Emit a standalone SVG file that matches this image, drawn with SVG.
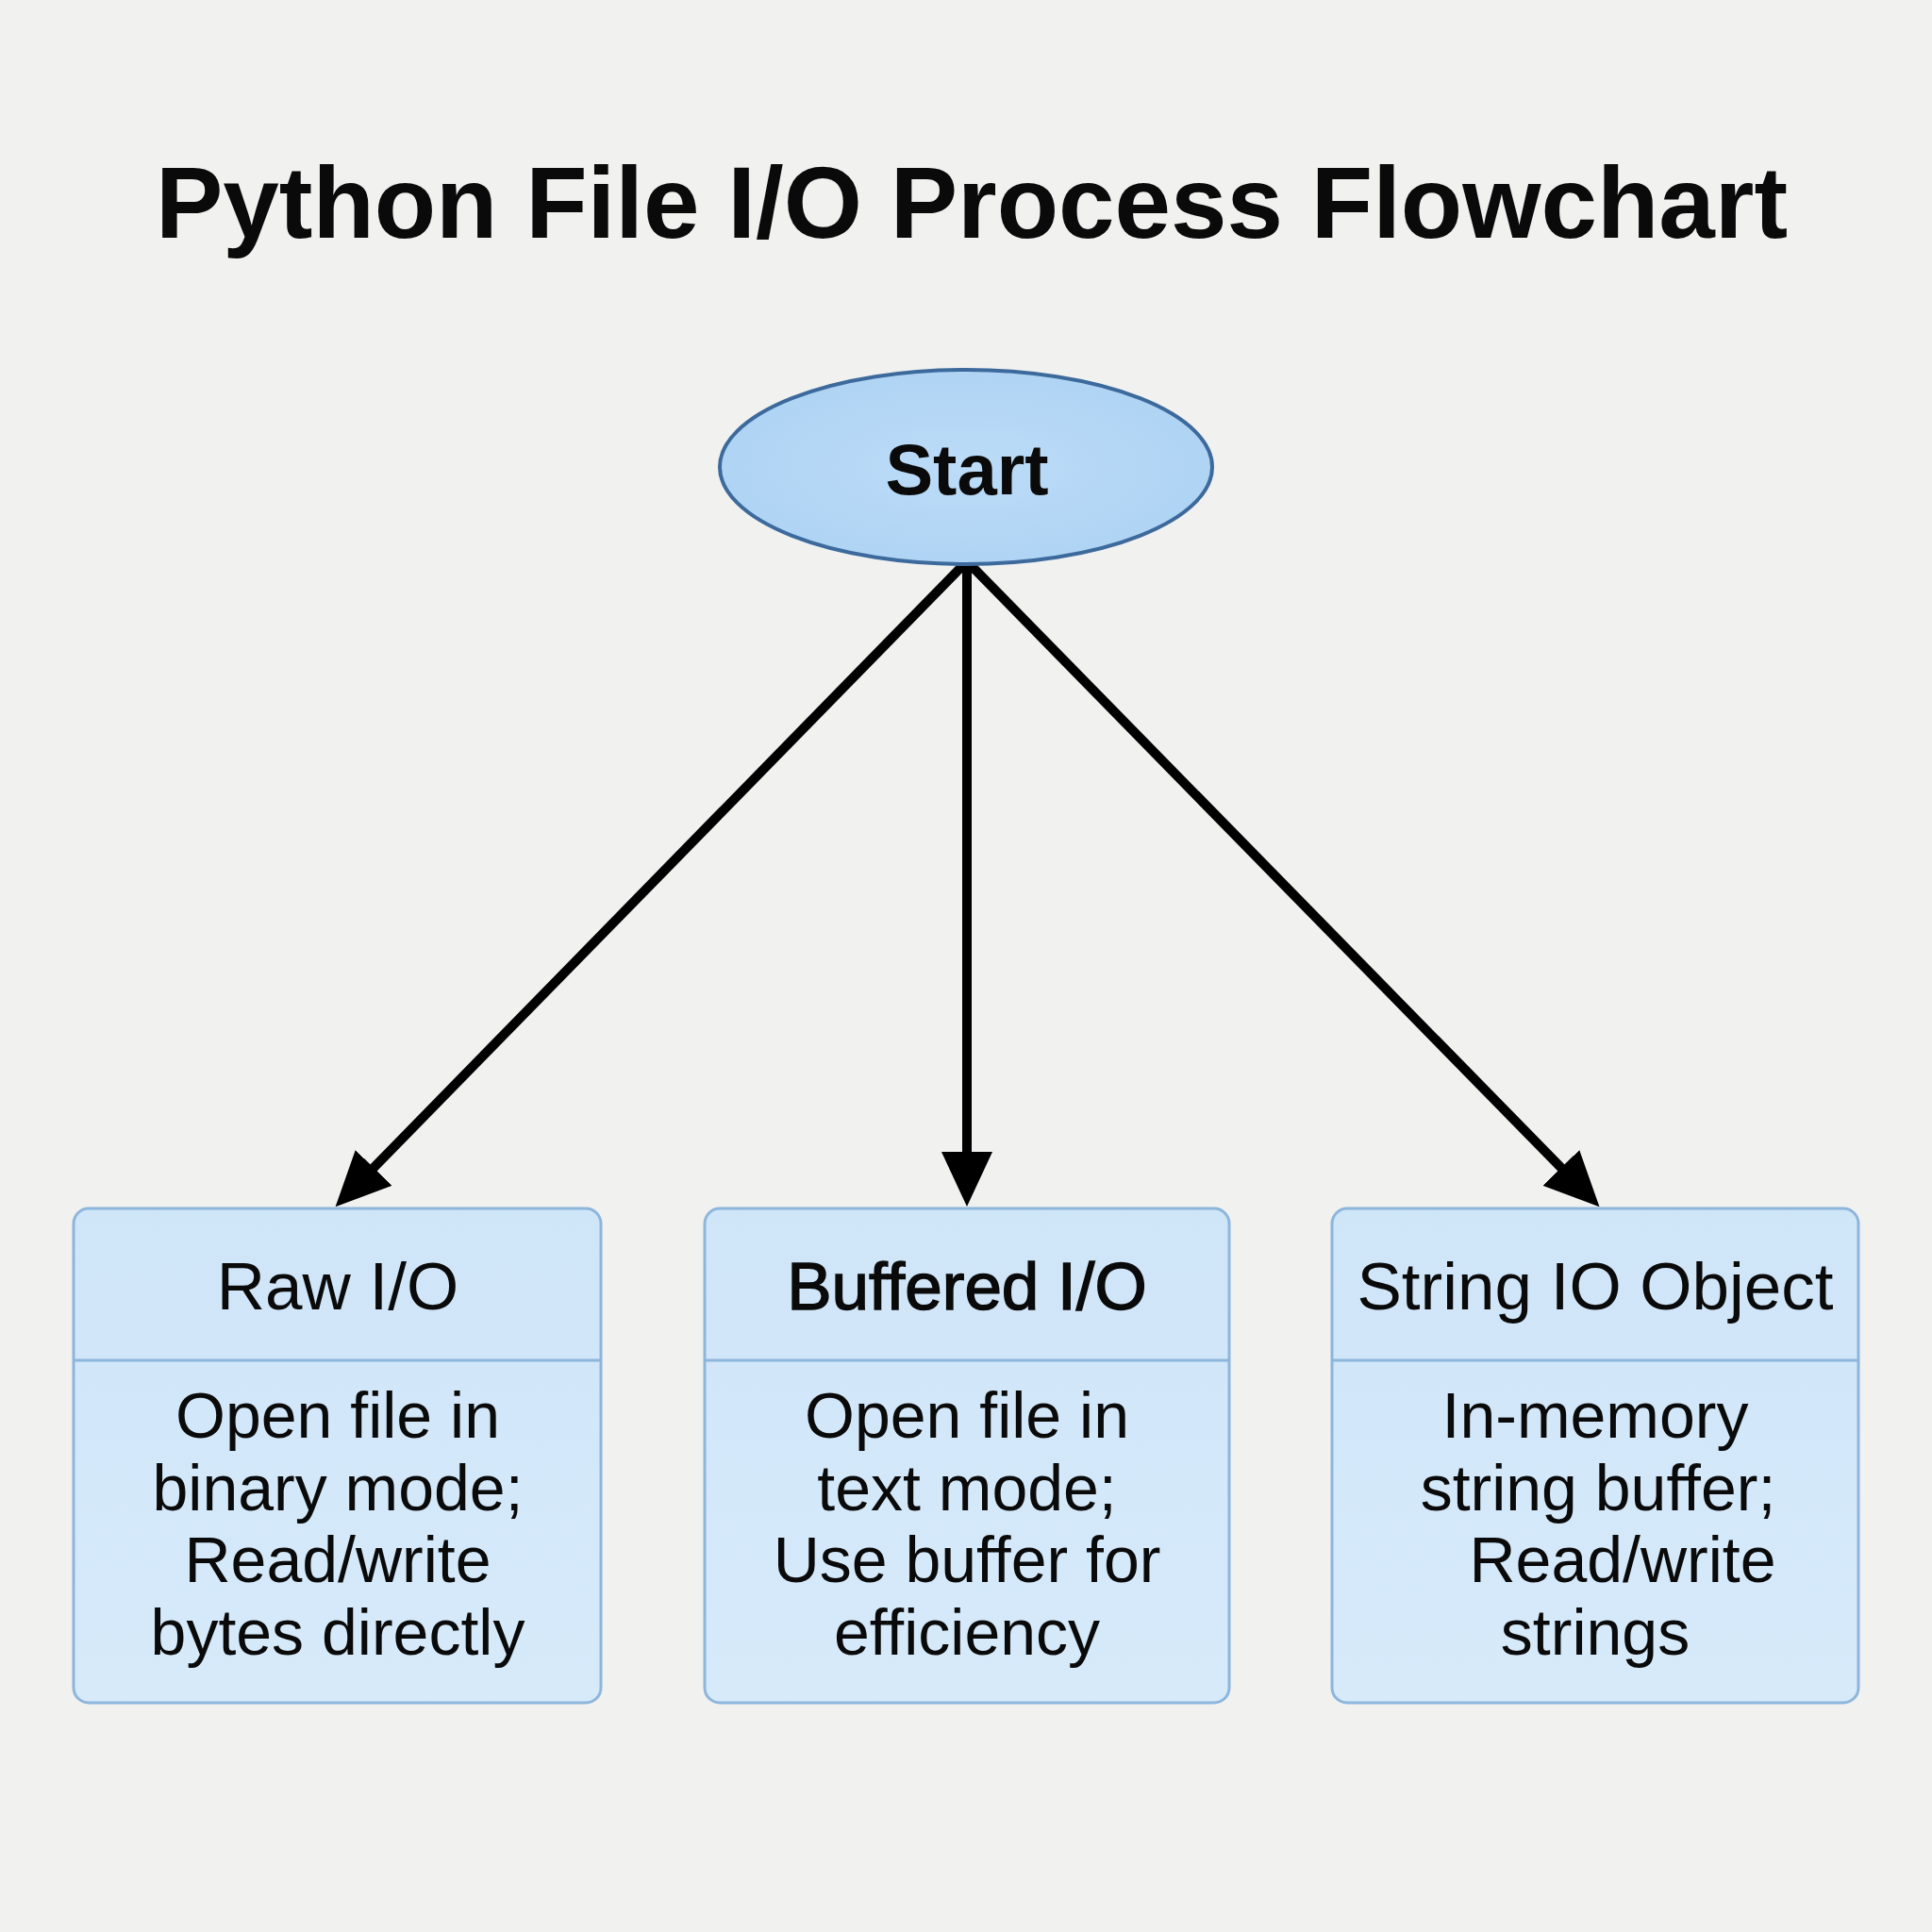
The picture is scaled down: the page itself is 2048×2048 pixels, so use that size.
<svg xmlns="http://www.w3.org/2000/svg" width="2048" height="2048" viewBox="0 0 2048 2048">
<style>
.title{font-family:"Liberation Sans",Arial,sans-serif;font-weight:bold;font-size:107px;fill:#0a0a0a;text-anchor:middle}
.start{font-family:"Liberation Sans",Arial,sans-serif;font-weight:bold;font-size:76px;fill:#0a0a0a;text-anchor:middle}
.hdr{font-family:"Liberation Sans",Arial,sans-serif;font-size:71px;fill:#0a0a0a;text-anchor:middle}
.body{font-family:"Liberation Sans",Arial,sans-serif;font-size:68px;fill:#0a0a0a;text-anchor:middle}
.box{fill:url(#boxg);stroke:#8db6dc;stroke-width:3}
.div{stroke:#8db6dc;stroke-width:3}
.conn{stroke:#000;stroke-width:10;fill:none;marker-end:url(#ah)}
</style>
<defs>
<linearGradient id="boxg" x1="0" y1="0" x2="0" y2="1">
<stop offset="0" stop-color="#cfe5f8"/>
<stop offset="1" stop-color="#d6eafa"/>
</linearGradient>
<radialGradient id="ellg" cx="0.5" cy="0.5" r="0.6">
<stop offset="0" stop-color="#bcdcf8"/>
<stop offset="1" stop-color="#add2f3"/>
</radialGradient>
<marker id="ah" markerUnits="userSpaceOnUse" viewBox="0 0 58 54" refX="3" refY="27" markerWidth="58" markerHeight="54" orient="auto">
<path d="M0,0 L58,27 L0,54 z" fill="#000"/>
</marker>
</defs>
<rect width="2048" height="2048" fill="#f1f1f0"/>
<text class="title" x="1030" y="252">Python File I/O Process Flowchart</text>
<g id="connectors">
<line class="conn" x1="1022" y1="598" x2="394" y2="1240"/>
<line class="conn" x1="1025" y1="598" x2="1025" y2="1224"/>
<line class="conn" x1="1028" y1="598" x2="1657" y2="1240"/>
</g>
<g id="start">
<ellipse cx="1024" cy="495" rx="261" ry="103" fill="url(#ellg)" stroke="#3d6a9c" stroke-width="4"/>
<text class="start" x="1025" y="524">Start</text>
</g>
<g id="raw-io">
<rect class="box" x="78" y="1281" width="559" height="524" rx="16"/>
<line class="div" x1="78" y1="1442" x2="637" y2="1442"/>
<text class="hdr" x="358" y="1388">Raw I/O</text>
<text class="body" x="358" y="1524">Open file in</text>
<text class="body" x="358" y="1601">binary mode;</text>
<text class="body" x="358" y="1677">Read/write</text>
<text class="body" x="358" y="1754">bytes directly</text>
</g>
<g id="buffered-io">
<rect class="box" x="747" y="1281" width="556" height="524" rx="16"/>
<line class="div" x1="747" y1="1442" x2="1303" y2="1442"/>
<text class="hdr" x="1025" y="1388" stroke="#0a0a0a" stroke-width="1.5">Buffered I/O</text>
<text class="body" x="1025" y="1524">Open file in</text>
<text class="body" x="1025" y="1601">text mode;</text>
<text class="body" x="1025" y="1677">Use buffer for</text>
<text class="body" x="1025" y="1754">efficiency</text>
</g>
<g id="stringio">
<rect class="box" x="1412" y="1281" width="558" height="524" rx="16"/>
<line class="div" x1="1412" y1="1442" x2="1970" y2="1442"/>
<text class="hdr" x="1691" y="1388">String IO Object</text>
<text class="body" x="1691" y="1524">In-memory</text>
<text class="body" x="1694" y="1601">string buffer;</text>
<text class="body" x="1720" y="1677">Read/write</text>
<text class="body" x="1691" y="1754">strings</text>
</g>
</svg>
